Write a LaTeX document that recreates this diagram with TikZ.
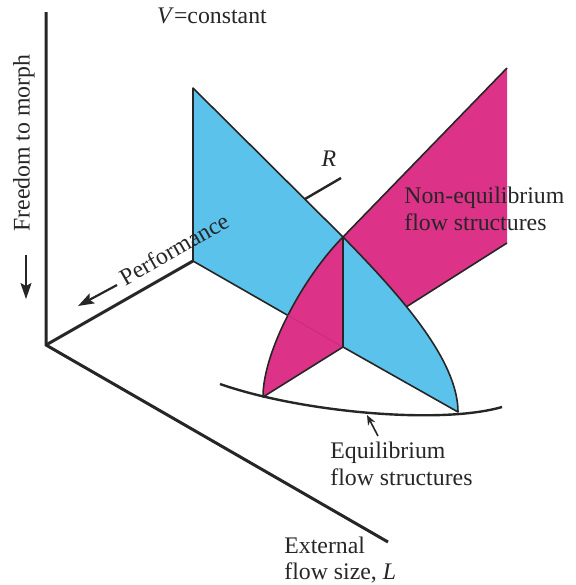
\documentclass[tikz,border=0pt]{standalone}
\usepackage{fontspec}
\setmainfont{Liberation Serif}
\usepackage{tikz}
\usetikzlibrary{arrows.meta}

\definecolor{skyblue}{RGB}{91,195,235}
\definecolor{rosepink}{RGB}{220,50,135}

\begin{document}
\begin{tikzpicture}[
    x=0.5pt, y=-0.5pt,
    axis/.style={line width=1.5pt, black!85},
    plane/.style={draw=black!85, line width=0.8pt, line join=round},
    lab/.style={font=\fontsize{11.9}{13.4}\selectfont, text=black!85, inner sep=0pt, align=left},
    arr/.style={-{Stealth[length=8pt, width=5.5pt, inset=1.5pt]}, line width=0.9pt, black!85},
    smallarr/.style={-{Stealth[length=5pt, width=4pt]}, line width=0.8pt, black!85}
]
\useasboundingbox (0,0) rectangle (576,585);

% corner points
\coordinate (origin) at (46,345);
\coordinate (ytop)   at (46,12);
\coordinate (pend)   at (193,261);
\coordinate (lend)   at (388,542);
\coordinate (apex)   at (343,237);
\coordinate (foot)   at (343,347);
\coordinate (btop)   at (193,88);
\coordinate (ptop)   at (507,68);
\coordinate (pbot)   at (507,243);
\coordinate (pleft)  at (263,397);
\coordinate (bright) at (458,412);

% axes
\draw[axis] (ytop) -- (origin) -- (lend);
\draw[axis] (origin) -- (pend);

% back planes
\fill[rosepink] (apex) -- (ptop) -- (pbot) -- (foot) -- cycle;
\draw[plane] (apex) -- (ptop);
\draw[plane] (pbot) -- (foot);
\filldraw[plane, fill=skyblue] (btop) -- (apex) -- (foot) -- (pend) -- cycle;

% front pieces
\filldraw[plane, fill=rosepink] (apex) -- (foot) -- (pleft) .. controls (263,350) and (305,275) .. (apex);
\begin{scope}
  \clip (apex) -- (foot) -- (pleft) .. controls (263,350) and (305,275) .. (apex);
  \draw[rosepink!90!black, line width=0.4pt] (pend) -- (foot);
\end{scope}
\draw[plane] (apex) -- (foot);
\filldraw[plane, fill=skyblue] (apex) -- (foot) -- (bright) .. controls (458,360) and (400,295) .. (apex);

% R axis tick
\coordinate (rfoot) at (305,199);
\coordinate (rend)  at (341,178);
\draw[line width=1.2pt, black!85] (rfoot) -- (rend);
\node[lab] (rlab) at (329,159) {\textit{R}};

% equilibrium curve
\coordinate (eqleft)  at (220,384);
\coordinate (eqright) at (502,407);
\draw[line width=1.2pt, black!85] (eqleft) .. controls (300,412) and (440,425) .. (eqright);
\coordinate (eqtail) at (378,436);
\coordinate (eqtip)  at (367,415);
\draw[smallarr] (eqtail) -- (eqtip);

% labels
\node[lab] (vconst) at (212,16) {\textit{V}=constant};
\node[lab, rotate=90] (freedom) at (24,143) {Freedom to morph};
\coordinate (fdtail) at (26,255);
\coordinate (fdtip)  at (26,299);
\draw[arr] (fdtail) -- (fdtip);

\node[lab, rotate=29.7] (perf) at (174,249) {Performance};
\coordinate (pftail) at (117,285);
\coordinate (pftip)  at (78,306);
\draw[arr, line width=1.1pt] (pftail) -- (pftip);

\node[lab, anchor=west] (noneq) at (404,209) {Non-equilibrium\\flow structures};
\node[lab, anchor=west] (eqlab) at (330,464) {Equilibrium\\flow structures};
\node[lab, anchor=west] (extlab) at (284,560) {External\\flow size, \textit{L}};
\end{tikzpicture}
\end{document}
